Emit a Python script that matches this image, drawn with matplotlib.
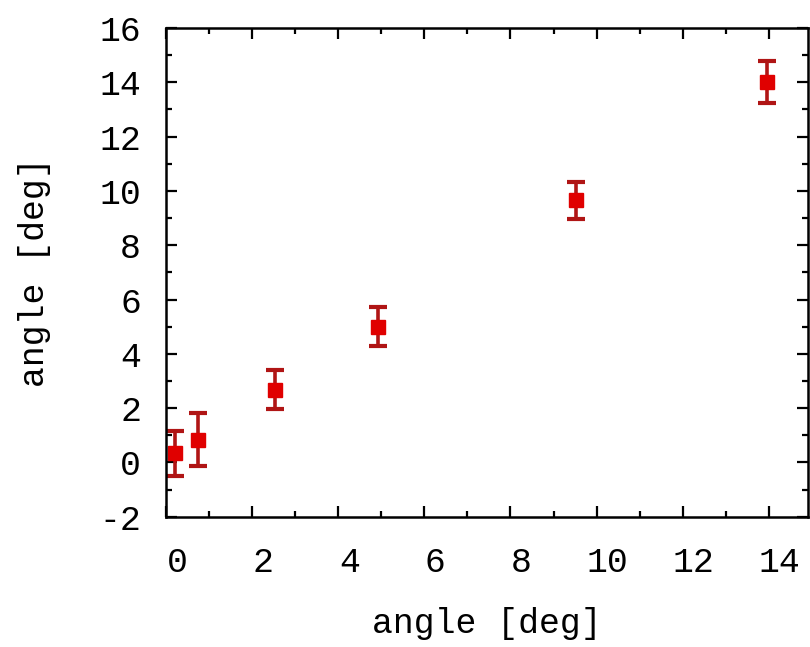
import numpy as np
import matplotlib
matplotlib.use("Agg")
import matplotlib.pyplot as plt
from matplotlib.transforms import ScaledTranslation

# values
x_vals = [0.21, 0.75, 2.53, 4.93, 9.52, 13.96]
y_vals = [0.33, 0.83, 2.67, 5.00, 9.66, 14.02]
y_err = [0.83, 0.98, 0.72, 0.73, 0.68, 0.77]

x_ticks = [0, 2, 4, 6, 8, 10, 12, 14]
y_ticks = [-2, 0, 2, 4, 6, 8, 10, 12, 14, 16]

plt.rcParams['font.family'] = ['Liberation Mono', 'DejaVu Sans Mono']
plt.rcParams['font.size'] = 25
plt.rcParams['axes.unicode_minus'] = False

fig = plt.figure(figsize=(8.1, 6.47), dpi=100)
ax = fig.add_axes([0.2049, 0.2014, 0.7932, 0.7553])

ax.errorbar(x_vals, y_vals, yerr=y_err, fmt='s', color='#e00000',
            markersize=10, mec='#e00000', ecolor='#b01515', elinewidth=2.6,
            capsize=6.5, capthick=3)

ax.set_xlim(0, 14.92)
ax.set_ylim(-2, 16)
ax.set_xticks(x_ticks)
ax.set_xticks(np.arange(1, 15, 2), minor=True)
ax.set_yticks(y_ticks)
ax.set_yticks(np.arange(-1, 16, 2), minor=True)

ax.tick_params(which='both', direction='in', top=True, right=True, width=1.6)
ax.tick_params(which='major', length=8)
ax.tick_params(which='minor', length=4.5)
ax.tick_params(axis='y', which='major', pad=18)
ax.tick_params(axis='x', which='major', pad=21)
for s in ax.spines.values():
    s.set_linewidth(1.8)

# the x tick labels sit a little right of their ticks in the original
shift = ScaledTranslation(11 / 100, 0, fig.dpi_scale_trans)
for t in ax.xaxis.get_major_ticks():
    t.label1.set_transform(t.label1.get_transform() + shift)

ax.set_xlabel('angle [deg]', labelpad=20)
ax.set_ylabel('angle [deg]', labelpad=35)

fig.savefig('out.png', dpi=100)
